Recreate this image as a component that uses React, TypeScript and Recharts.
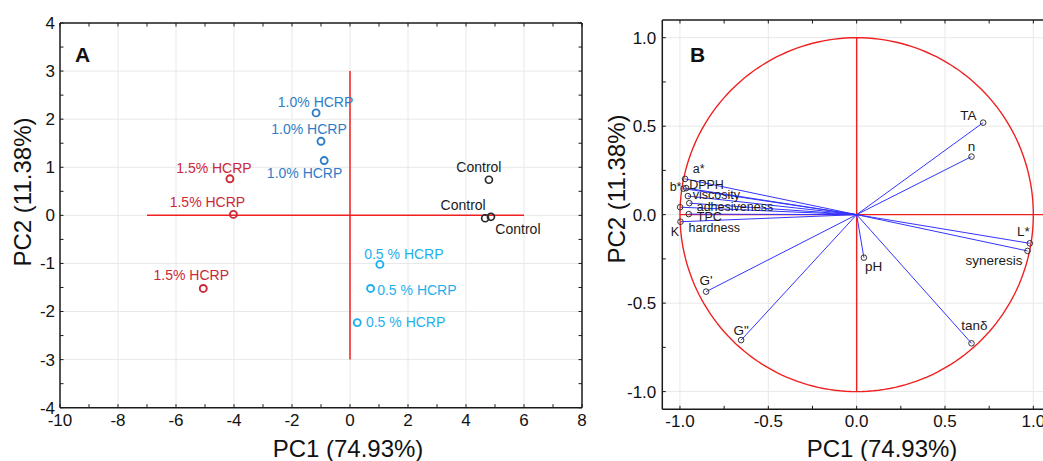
import React from 'react';
import { ScatterChart, Scatter, XAxis, YAxis, CartesianGrid, ReferenceLine } from 'recharts';

const FONT = '"Liberation Sans", Arial, Helvetica, sans-serif';

type Pt = { x: number; y: number; label: string };
type Place = { dx: number; dy: number; anchor: 'start' | 'middle' | 'end' };

// ---------------- Panel A : PCA scores ----------------
const scoresControl: Pt[] = [
  { x: 4.79, y: 0.74, label: 'Control' },
  { x: 4.66, y: -0.06, label: 'Control' },
  { x: 4.86, y: -0.03, label: 'Control' },
];
const scores05: Pt[] = [
  { x: 1.03, y: -1.02, label: '0.5 % HCRP' },
  { x: 0.71, y: -1.52, label: '0.5 % HCRP' },
  { x: 0.25, y: -2.23, label: '0.5 % HCRP' },
];
const scores10: Pt[] = [
  { x: -1.17, y: 2.13, label: '1.0% HCRP' },
  { x: -1.0, y: 1.54, label: '1.0% HCRP' },
  { x: -0.89, y: 1.14, label: '1.0% HCRP' },
];
const scores15: Pt[] = [
  { x: -4.14, y: 0.76, label: '1.5% HCRP' },
  { x: -4.02, y: 0.02, label: '1.5% HCRP' },
  { x: -5.06, y: -1.52, label: '1.5% HCRP' },
];

const xMajorA = [-10, -8, -6, -4, -2, 0, 2, 4, 6, 8];
const xMinorA = [-9, -7, -5, -3, -1, 1, 3, 5, 7];
const yMajorA = [-4, -3, -2, -1, 0, 1, 2, 3, 4];
const yMinorA = [-3.5, -2.5, -1.5, -0.5, 0.5, 1.5, 2.5, 3.5];
const gridXA = [-8, -6, -4, -2, 0, 2, 4, 6];
const gridYA = [-3, -2, -1, 0, 1, 2, 3];

// label placement (annotation styling)
const placeControl: Place[] = [
  { dx: -10, dy: -12.6, anchor: 'middle' },
  { dx: -22, dy: -12.7, anchor: 'middle' },
  { dx: 27, dy: 12.6, anchor: 'middle' },
];
const place05: Place[] = [
  { dx: 24, dy: -10.7, anchor: 'middle' },
  { dx: 6.6, dy: 1.7, anchor: 'start' },
  { dx: 8.7, dy: -0.6, anchor: 'start' },
];
const place10: Place[] = [
  { dx: -0.5, dy: -11, anchor: 'middle' },
  { dx: -12, dy: -11.7, anchor: 'middle' },
  { dx: -19.6, dy: 12.7, anchor: 'middle' },
];
const place15: Place[] = [
  { dx: -16, dy: -11, anchor: 'middle' },
  { dx: -26, dy: -12.3, anchor: 'middle' },
  { dx: -12, dy: -13.3, anchor: 'middle' },
];

// ---------------- Panel B : loadings ----------------
const loadingsRight: Pt[] = [
  { x: 0.716, y: 0.52, label: 'TA' },
  { x: 0.65, y: 0.328, label: 'n' },
  { x: 0.98, y: -0.162, label: 'L*' },
  { x: 0.967, y: -0.205, label: 'syneresis' },
  { x: 0.65, y: -0.727, label: 'tan\u03B4' },
  { x: 0.041, y: -0.243, label: 'pH' },
  { x: -0.852, y: -0.435, label: "G'" },
  { x: -0.654, y: -0.709, label: 'G"' },
];
const loadingsLeft: Pt[] = [
  { x: -0.971, y: 0.202, label: 'a*' },
  { x: -0.98, y: 0.147, label: 'b*' },
  { x: -0.965, y: 0.15, label: 'DPPH' },
  { x: -0.955, y: 0.105, label: 'viscosity' },
  { x: -0.947, y: 0.065, label: 'adhesiveness' },
  { x: -0.999, y: 0.042, label: 'K' },
  { x: -0.95, y: 0.003, label: 'TPC' },
  { x: -0.997, y: -0.04, label: 'hardness' },
];
const placeRight: Place[] = [
  { dx: -6.6, dy: -7.7, anchor: 'end' },
  { dx: 0, dy: -10, anchor: 'middle' },
  { dx: 0, dy: -11.6, anchor: 'end' },
  { dx: -5, dy: 9, anchor: 'end' },
  { dx: 3, dy: -18, anchor: 'middle' },
  { dx: 1, dy: 9, anchor: 'start' },
  { dx: 0, dy: -11, anchor: 'middle' },
  { dx: 0, dy: -10, anchor: 'middle' },
];
const placeLeft: Place[] = [
  { dx: 7.7, dy: -10.7, anchor: 'start' },
  { dx: -2, dy: -2, anchor: 'end' },
  { dx: 3, dy: -3, anchor: 'start' },
  { dx: 4.8, dy: -1.8, anchor: 'start' },
  { dx: 7.4, dy: 3.5, anchor: 'start' },
  { dx: -1, dy: 24.4, anchor: 'end' },
  { dx: 8, dy: 2.5, anchor: 'start' },
  { dx: 8, dy: 5.5, anchor: 'start' },
];

const majorB = [-1, -0.5, 0, 0.5, 1];
const minorB = [-0.75, -0.25, 0.25, 0.75];
const gridB = [-1, -0.5, 0, 0.5, 1];

// reference unit circle (circle of correlations, radius 1)
const CIRCLE_STEPS = 200;
const unitCircle = Array.from({ length: CIRCLE_STEPS + 1 }, (_, i) => ({
  x: Math.cos((2 * Math.PI * i) / CIRCLE_STEPS),
  y: Math.sin((2 * Math.PI * i) / CIRCLE_STEPS),
}));

const RED = '#f02020';
const FRAME = '#1a1a1a';
const GRID = '#e8e8e8';
const VEC = '#3434ff';
const TICK_FS = 17;

const sortNum = (a: number[]) => [...a].sort((p, q) => p - q);
const isIn = (arr: number[], v: number) => arr.some((m) => Math.abs(m - v) < 1e-9);

function makeTick(
  side: 'bottom' | 'left' | 'top' | 'right',
  majors: number[],
  fmt: (v: number) => string,
  fontSize: number,
  gap: number
) {
  return (props: any) => {
    const { x, y, payload } = props;
    const v = payload.value as number;
    const major = isIn(majors, v);
    const len = 3.5;
    let line: [number, number, number, number];
    let text: React.ReactNode = null;
    if (side === 'bottom') {
      line = [x, y, x, y - len];
      if (major)
        text = (
          <text x={x} y={y + gap} textAnchor="middle" fontSize={fontSize} fontFamily={FONT} fill="#111">
            {fmt(v)}
          </text>
        );
    } else if (side === 'top') {
      line = [x, y, x, y + len];
    } else if (side === 'left') {
      line = [x, y, x + len, y];
      if (major)
        text = (
          <text x={x - gap} y={y} dy="0.35em" textAnchor="end" fontSize={fontSize} fontFamily={FONT} fill="#111">
            {fmt(v)}
          </text>
        );
    } else {
      line = [x, y, x - len, y];
    }
    return (
      <g>
        <line x1={line[0]} y1={line[1]} x2={line[2]} y2={line[3]} stroke={FRAME} strokeWidth={1} />
        {text}
      </g>
    );
  };
}

function makeShape(
  data: Pt[],
  places: Place[],
  stroke: string,
  textColor: string,
  r: number,
  sw: number,
  fontSize: number
) {
  return (props: any) => {
    const { cx, cy, payload } = props;
    let i = typeof props.index === 'number' ? props.index : data.indexOf(payload);
    if (i < 0) i = data.findIndex((d) => d.x === payload?.x && d.y === payload?.y);
    const p = places[i] ?? { dx: 0, dy: -10, anchor: 'middle' };
    return (
      <g>
        <circle cx={cx} cy={cy} r={r} fill="none" stroke={stroke} strokeWidth={sw} />
        <text
          x={cx + p.dx}
          y={cy + p.dy}
          dy="0.35em"
          textAnchor={p.anchor}
          fontSize={fontSize}
          fontFamily={FONT}
          fill={textColor}
        >
          {payload?.label}
        </text>
      </g>
    );
  };
}

const EmptyShape = () => <g />;

const fmtInt = (v: number) => String(v);
const fmtOne = (v: number) => v.toFixed(1);

function axisCommon() {
  return {
    type: 'number' as const,
    interval: 0 as const,
    allowDataOverflow: true,
    tickSize: 0,
    tickMargin: 0,
    tickLine: false,
    axisLine: { stroke: FRAME, strokeWidth: 1.5 },
  };
}

function PanelA() {
  const xt = sortNum([...xMajorA, ...xMinorA]);
  const yt = sortNum([...yMajorA, ...yMinorA]);
  const dom: [number, number] = [-10, 8];
  const domY: [number, number] = [-4, 4];
  return (
    <ScatterChart width={600} height={461} margin={{ top: 22, left: 59, right: 17, bottom: 52.3 }}>
      <CartesianGrid stroke={GRID} horizontalValues={gridYA} verticalValues={gridXA} />
      <XAxis
        {...axisCommon()}
        dataKey="x"
        domain={dom}
        ticks={xt}
        height={1}
        tick={makeTick('bottom', xMajorA, fmtInt, TICK_FS, 18)}
      />
      <XAxis
        {...axisCommon()}
        xAxisId="top"
        orientation="top"
        dataKey="x"
        domain={dom}
        ticks={xt}
        height={1}
        tick={makeTick('top', xMajorA, fmtInt, TICK_FS, 0)}
      />
      <YAxis
        {...axisCommon()}
        dataKey="y"
        domain={domY}
        ticks={yt}
        width={1}
        tick={makeTick('left', yMajorA, fmtInt, TICK_FS, 5)}
      />
      <YAxis
        {...axisCommon()}
        yAxisId="right"
        orientation="right"
        dataKey="y"
        domain={domY}
        ticks={yt}
        width={1}
        tick={makeTick('right', yMajorA, fmtInt, TICK_FS, 0)}
      />
      <ReferenceLine segment={[{ x: -7, y: 0 }, { x: 6, y: 0 }]} stroke={RED} strokeWidth={1.5} />
      <ReferenceLine segment={[{ x: 0, y: -3 }, { x: 0, y: 3 }]} stroke={RED} strokeWidth={1.5} />
      <Scatter
        data={scoresControl}
        isAnimationActive={false}
        shape={makeShape(scoresControl, placeControl, '#2a2a2a', '#1a1a1a', 3.5, 1.7, 14)}
      />
      <Scatter
        data={scores05}
        isAnimationActive={false}
        shape={makeShape(scores05, place05, '#1eb0ee', '#1eb0ee', 3.5, 1.9, 14)}
      />
      <Scatter
        data={scores10}
        isAnimationActive={false}
        shape={makeShape(scores10, place10, '#2f7dc8', '#2f7dc8', 3.5, 1.9, 14)}
      />
      <Scatter
        data={scores15}
        isAnimationActive={false}
        shape={makeShape(scores15, place15, '#cc2838', '#cc2838', 3.5, 1.9, 14)}
      />
    </ScatterChart>
  );
}

function PanelB() {
  const t = sortNum([...majorB, ...minorB]);
  const dom: [number, number] = [-1.1, 1.1];
  const all = [...loadingsRight, ...loadingsLeft];
  return (
    <ScatterChart width={460} height={461} margin={{ top: 19, left: 61.3, right: 8, bottom: 50.7 }}>
      <CartesianGrid stroke={GRID} horizontalValues={gridB} verticalValues={gridB} />
      <XAxis
        {...axisCommon()}
        dataKey="x"
        domain={dom}
        ticks={t}
        height={1}
        tick={makeTick('bottom', majorB, fmtOne, TICK_FS, 18)}
      />
      <XAxis
        {...axisCommon()}
        xAxisId="top"
        orientation="top"
        dataKey="x"
        domain={dom}
        ticks={t}
        height={1}
        tick={makeTick('top', majorB, fmtOne, TICK_FS, 0)}
      />
      <YAxis
        {...axisCommon()}
        dataKey="y"
        domain={dom}
        ticks={t}
        width={1}
        tick={makeTick('left', majorB, fmtOne, TICK_FS, 6)}
      />
      <YAxis
        {...axisCommon()}
        yAxisId="right"
        orientation="right"
        dataKey="y"
        domain={dom}
        ticks={t}
        width={1}
        tick={makeTick('right', majorB, fmtOne, TICK_FS, 0)}
      />
      <ReferenceLine segment={[{ x: -1, y: 0 }, { x: 1.1, y: 0 }]} stroke={RED} strokeWidth={1.4} />
      <ReferenceLine segment={[{ x: 0, y: -1 }, { x: 0, y: 1 }]} stroke={RED} strokeWidth={1.4} />
      <Scatter
        data={unitCircle}
        isAnimationActive={false}
        line={{ stroke: RED, strokeWidth: 1.4 }}
        shape={EmptyShape}
      />
      {all.map((d, i) => (
        <ReferenceLine
          key={'v' + i}
          segment={[{ x: 0, y: 0 }, { x: d.x, y: d.y }]}
          stroke={VEC}
          strokeWidth={1}
        />
      ))}
      <Scatter
        data={loadingsRight}
        isAnimationActive={false}
        shape={makeShape(loadingsRight, placeRight, '#333', '#1a1a1a', 2.8, 1, 13.5)}
      />
      <Scatter
        data={loadingsLeft}
        isAnimationActive={false}
        shape={makeShape(loadingsLeft, placeLeft, '#333', '#1a1a1a', 2.8, 1, 12.5)}
      />
    </ScatterChart>
  );
}

export default function App() {
  return (
    <div
      style={{
        position: 'absolute',
        left: 0,
        top: 0,
        width: 1043,
        height: 461,
        overflow: 'hidden',
        background: '#fff',
        fontFamily: FONT,
      }}
    >
      <div style={{ position: 'absolute', left: 0, top: 0 }}>
        <PanelA />
      </div>
      <div style={{ position: 'absolute', left: 600, top: 0 }}>
        <PanelB />
      </div>
      <svg
        width={1043}
        height={461}
        style={{ position: 'absolute', left: 0, top: 0, pointerEvents: 'none' }}
      >
        <text x={75} y={61.7} fontSize={21} fontWeight="bold" fontFamily={FONT} fill="#111">
          A
        </text>
        <text x={690} y={61.7} fontSize={21} fontWeight="bold" fontFamily={FONT} fill="#111">
          B
        </text>
        <text x={348} y={457} textAnchor="middle" fontSize={24} fontFamily={FONT} fill="#111">
          PC1 (74.93%)
        </text>
        <text transform="translate(31,192) rotate(-90)" textAnchor="middle" fontSize={24} fontFamily={FONT} fill="#111">
          PC2 (11.38%)
        </text>
        <text x={882} y={457} textAnchor="middle" fontSize={24} fontFamily={FONT} fill="#111">
          PC1 (74.93%)
        </text>
        <text transform="translate(625,189) rotate(-90)" textAnchor="middle" fontSize={24} fontFamily={FONT} fill="#111">
          PC2 (11.38%)
        </text>
      </svg>
    </div>
  );
}
